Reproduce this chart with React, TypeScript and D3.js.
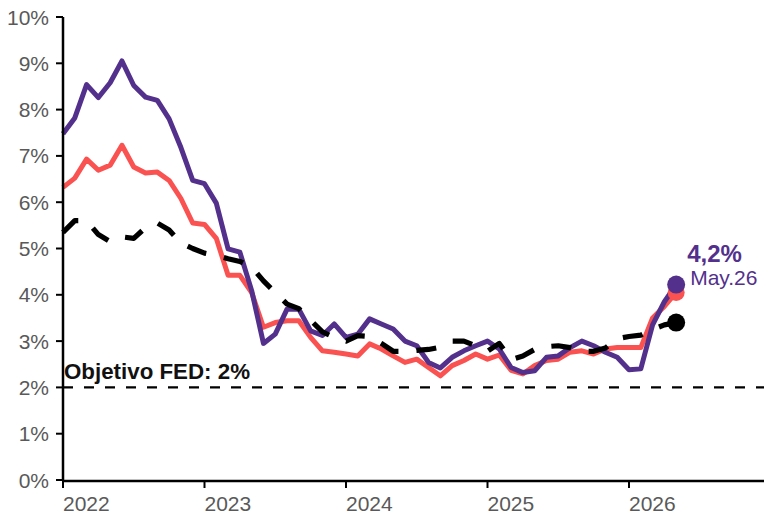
import React from "react";
import * as d3 from "d3";

const years = ["2022", "2023", "2024", "2025", "2026"];
const yTicks = [0, 1, 2, 3, 4, 5, 6, 7, 8, 9, 10];

// monthly values, Jan 2022 .. May 2026
const purpleSeries = [
  7.48, 7.82, 8.54, 8.26, 8.58, 9.05, 8.52, 8.27, 8.2, 7.8, 7.18, 6.47,
  6.4, 5.98, 4.99, 4.92, 4.09, 2.95, 3.15, 3.69, 3.69, 3.22, 3.12, 3.37,
  3.08, 3.15, 3.48, 3.37, 3.26, 3.0, 2.9, 2.54, 2.42, 2.65, 2.79, 2.9,
  3.0, 2.83, 2.43, 2.32, 2.36, 2.65, 2.68, 2.86, 3.0, 2.9, 2.76, 2.65,
  2.38, 2.4, 3.35, 3.85, 4.22,
];
const redSeries = [
  6.32, 6.52, 6.93, 6.69, 6.8, 7.23, 6.76, 6.63, 6.65, 6.47, 6.08, 5.55,
  5.52, 5.22, 4.42, 4.42, 4.05, 3.3, 3.4, 3.44, 3.44, 3.08, 2.79, 2.76,
  2.72, 2.68, 2.94, 2.83, 2.68, 2.54, 2.61, 2.43, 2.25, 2.47, 2.58, 2.72,
  2.61, 2.7, 2.37, 2.29, 2.47, 2.58, 2.61, 2.76, 2.79, 2.72, 2.83, 2.86,
  2.86, 2.86, 3.5, 3.75, 4.05,
];
const blackSeries = [
  5.35, 5.6, 5.6, 5.3, 5.15, 5.25, 5.22, 5.45, 5.55, 5.4, 5.12, 5.0,
  4.9, 4.85, 4.78, 4.72, 4.6, 4.3, 4.05, 3.8, 3.7, 3.45, 3.2, 3.08,
  3.0, 3.12, 3.1, 2.95, 2.78, 2.78, 2.8, 2.82, 2.87, 3.0, 3.0, 2.9,
  2.78, 2.95, 2.6, 2.68, 2.82, 2.88, 2.9, 2.86, 2.78, 2.78, 2.85, 3.05,
  3.1, 3.13, 3.25, 3.35, 3.4,
];
const targetValue = 2;
const targetLabel = "Objetivo FED: 2%";
const lastValueLabel = "4,2%";
const lastDateLabel = "May.26";

const PURPLE = "#53308C";
const RED = "#FA5250";
const GRAY = "#595959";

export default function App() {
  const width = 764;
  const height = 515;
  const x0 = 63;
  const monthW = 141.5 / 12;
  const x = d3.scaleLinear().domain([0, 60]).range([x0, x0 + 60 * monthW]);
  const y = d3.scaleLinear().domain([0, 10]).range([480, 17]);

  const line = d3
    .line<number>()
    .x((_, i) => x(i))
    .y((d) => y(d))
    .curve(d3.curveLinear);

  const last = purpleSeries.length - 1;
  const font = "Liberation Sans, Arial, sans-serif";

  return (
    <svg
      width={width}
      height={height}
      style={{ position: "absolute", left: 0, top: 0, background: "#fff" }}
      fontFamily={font}
    >
      {/* target line */}
      <line
        x1={x0}
        x2={width}
        y1={y(targetValue)}
        y2={y(targetValue)}
        stroke="#000"
        strokeWidth={2.3}
        strokeDasharray="10,11"
      />
      <text
        x={x0 + 1}
        y={y(targetValue) - 8}
        fontSize={22}
        fontWeight="bold"
        fill="#111"
        textLength={186}
        lengthAdjust="spacingAndGlyphs"
      >
        {targetLabel}
      </text>

      {/* series */}
      <path d={line(redSeries) || ""} fill="none" stroke={RED} strokeWidth={5} strokeLinejoin="round" />
      <path d={line(purpleSeries) || ""} fill="none" stroke={PURPLE} strokeWidth={5} strokeLinejoin="round" />
      <path
        d={line(blackSeries) || ""}
        fill="none"
        stroke="#000"
        strokeWidth={5.2}
        strokeDasharray="20,18"
        strokeLinejoin="round"
      />

      <circle cx={x(last)} cy={y(redSeries[last])} r={8.5} fill={RED} />
      <circle cx={x(last)} cy={y(purpleSeries[last])} r={9} fill={PURPLE} />
      <circle cx={x(last)} cy={y(blackSeries[last])} r={9} fill="#000" />

      <text x={x(last) + 11} y={y(purpleSeries[last]) - 23} fontSize={24} fontWeight="bold" fill={PURPLE}>
        {lastValueLabel}
      </text>
      <text x={x(last) + 14} y={y(purpleSeries[last]) + 0} fontSize={21} fill={PURPLE}>
        {lastDateLabel}
      </text>

      {/* axes */}
      <line x1={x0} x2={x0} y1={y(10)} y2={481} stroke="#000" strokeWidth={2.5} />
      <line x1={x0 - 1} x2={width} y1={481} y2={481} stroke="#000" strokeWidth={2.5} />
      {yTicks.map((t) => (
        <g key={t}>
          <line x1={x0 - 7} x2={x0} y1={y(t)} y2={y(t)} stroke="#000" strokeWidth={2} />
          <text x={49} y={y(t)} dy="0.36em" textAnchor="end" fontSize={21} fill={GRAY}>
            {t + "%"}
          </text>
        </g>
      ))}
      {years.map((yr, i) => (
        <g key={yr}>
          <line x1={x(i * 12)} x2={x(i * 12)} y1={481} y2={488} stroke="#000" strokeWidth={2} />
          <text x={x(i * 12)} y={511} fontSize={21} fill={GRAY}>
            {yr}
          </text>
        </g>
      ))}
    </svg>
  );
}
